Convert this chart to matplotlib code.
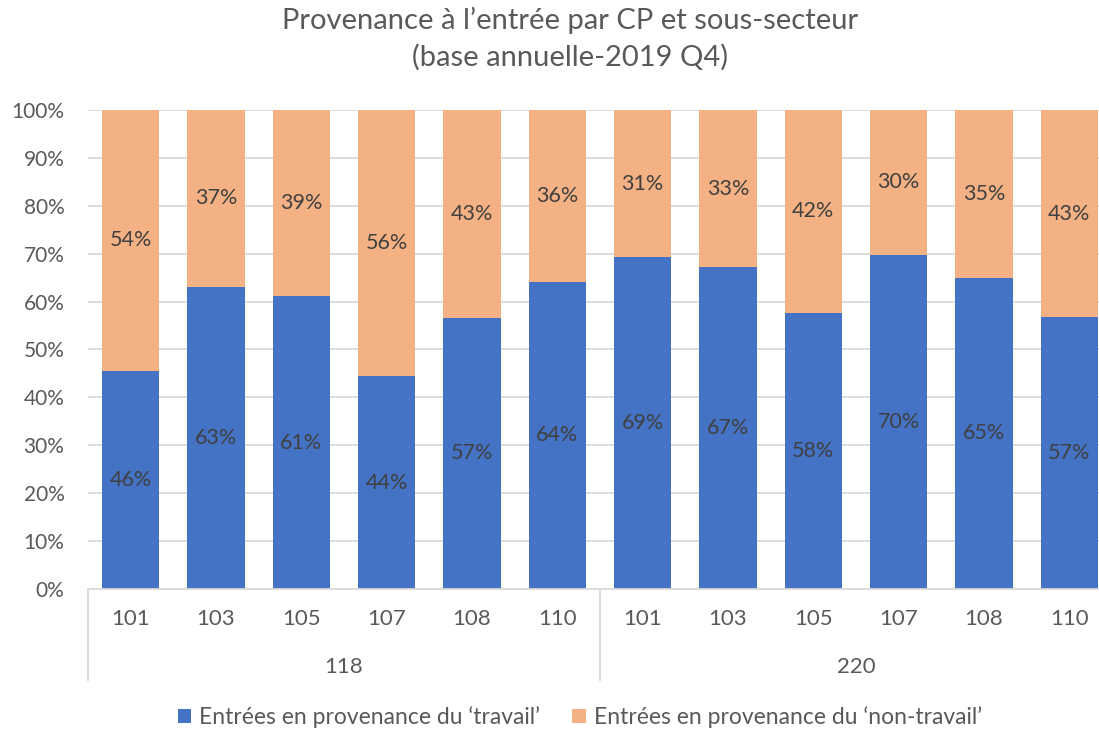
import matplotlib
matplotlib.use("Agg")
import matplotlib.pyplot as plt
import matplotlib.transforms as mtransforms
from matplotlib.patches import Patch

plt.rcParams['font.family'] = ['Lato', 'DejaVu Sans']

groups = ["118", "220"]
subsectors = ["101", "103", "105", "107", "108", "110"]
categories = [s for g in groups for s in subsectors]
travail = [45.6, 63.1, 61.1, 44.4, 56.6, 64.1, 69.3, 67.2, 57.7, 69.8, 65.0, 56.7]
non_travail = [100 - v for v in travail]
yticks = [0, 10, 20, 30, 40, 50, 60, 70, 80, 90, 100]
series_names = ["Entrées en provenance du \u2018travail\u2019",
                "Entrées en provenance du \u2018non-travail\u2019"]

blue = "#4472C4"
orange = "#F4B183"
grey_text = "#595959"
label_text = "#404040"

W, H = 1099, 729
fig = plt.figure(figsize=(W / 100, H / 100), dpi=100)
left, right, top, bottom = 88, 1112, 110, 589
ax = fig.add_axes([left / W, 1 - bottom / H, (right - left) / W, (bottom - top) / H])

x = list(range(len(categories)))
ax.bar(x, travail, width=0.67, color=blue, zorder=3)
ax.bar(x, non_travail, width=0.67, bottom=travail, color=orange, zorder=3)

fs = 15.5
for xi, t, n in zip(x, travail, non_travail):
    ax.text(xi, t / 2, f"{round(t):d}%", ha="center", va="center", fontsize=fs, color=label_text, zorder=4)
    ax.text(xi, t + n / 2, f"{round(n):d}%", ha="center", va="center", fontsize=fs, color=label_text, zorder=4)

ax.set_xlim(-0.5, len(categories) - 0.5)
ax.set_ylim(0, 100)
ax.set_yticks(yticks)
ax.set_yticklabels([f"{v}%" for v in yticks], fontsize=15, color=grey_text)
ax.tick_params(axis="y", length=0, pad=17)
ax.set_xticks([])
ax.grid(axis="y", color="#D9D9D9", linewidth=1.3, zorder=0)
for s in ["top", "right", "left"]:
    ax.spines[s].set_visible(False)
ax.spines["bottom"].set_color("#D9D9D9")
ax.spines["bottom"].set_linewidth(1.3)
ax.spines["bottom"].set_zorder(5)

trans = mtransforms.blended_transform_factory(ax.transData, ax.transAxes)
px = 1 / (bottom - top)
for xi, c in zip(x, categories):
    ax.text(xi, -30 * px, c, transform=trans, ha="center", va="center", fontsize=16, color=grey_text)
n = len(subsectors)
for gi, g in enumerate(groups):
    ax.text(gi * n + (n - 1) / 2, -78 * px, g, transform=trans, ha="center", va="center", fontsize=16, color=grey_text)
for b in range(len(groups) + 1):
    xb = b * n - 0.5
    ax.plot([xb, xb], [0, -91 * px], transform=trans, color="#D9D9D9", linewidth=1.3, clip_on=False)

fig.text(570 / W, 1 - 20 / H, "Provenance à l\u2019entrée par CP et sous-secteur", ha="center", va="center",
         fontsize=21, color=grey_text)
fig.text(570 / W, 1 - 57 / H, "(base annuelle-2019 Q4)", ha="center", va="center",
         fontsize=21, color=grey_text)

handles = [Patch(facecolor=blue), Patch(facecolor=orange)]
fig.legend(handles, series_names, loc="center", bbox_to_anchor=(580 / W, 1 - 717 / H), ncol=2,
           frameon=False, fontsize=16.5, labelcolor=grey_text, handlelength=0.6, handleheight=0.6,
           handletextpad=0.35, columnspacing=1.4)

fig.savefig("out.png", dpi=100)
